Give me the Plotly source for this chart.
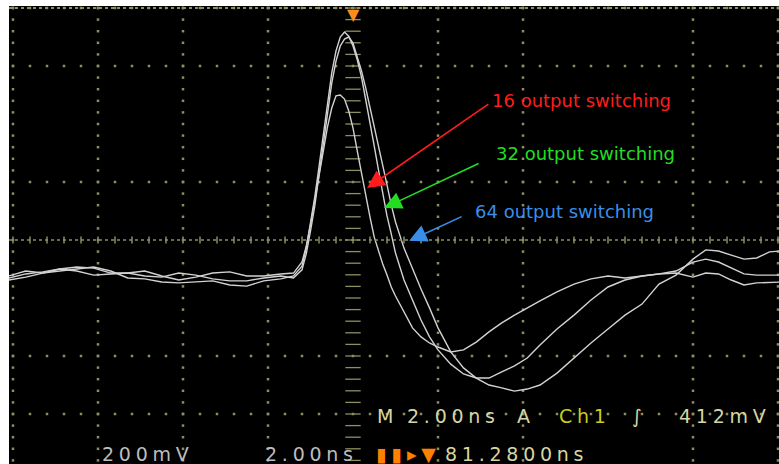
"""
Ground bounce vs number of switching outputs - scope capture redrawn
"""
import plotly.graph_objects as go

# scope settings: 2 ns/div, 200 mV/div
NS_DIV = 2.0
MV_DIV = 200.0

# time axis of the capture (ns, 0 = screen centre)
t_ns = [-8.1, -7.7, -7.3, -6.9, -6.5, -6.1, -5.7, -5.3, -4.9, -4.5, -4.1, -3.7,
        -3.3, -2.9, -2.5, -2.1, -1.7, -1.4,
        -1.2, -1.1, -1.0, -0.9, -0.8, -0.7, -0.6, -0.5, -0.4, -0.3, -0.2, -0.1,
        0.0, 0.1, 0.2, 0.3, 0.4, 0.5, 0.6, 0.7, 0.8, 0.9, 1.0,
        1.2, 1.4, 1.6, 1.8, 2.0,
        2.3, 2.6, 2.9, 3.2, 3.5, 3.8, 4.1, 4.4,
        4.8, 5.2, 5.6, 6.0, 6.4, 6.8, 7.2, 7.6, 8.0,
        8.3, 8.6, 8.9, 9.2, 9.5, 9.8, 10.05]

# mV
v_16 = [-131, -117, -110, -100, -93, -97, -114, -114, -107, -124, -138, -128,
        -114, -110, -124, -124, -117, -114,
        -76, -21, 52, 134, 221, 310, 390, 455, 497, 500, 486, 445,
        386, 307, 228, 152, 79, 10, -41, -83, -121, -162, -193,
        -248, -303, -334, -355, -369,
        -386, -379, -352, -317, -286, -259, -234, -210,
        -179, -152, -134, -124, -131, -124, -117, -114, -128,
        -114, -117, -138, -155, -148, -145, -145]

v_32 = [-124, -107, -114, -107, -100, -93, -107, -131, -134, -145, -148, -145,
        -141, -155, -159, -141, -134, -124,
        -90, -28, 55, 148, 252, 362, 479, 576, 652, 700, 717, 703,
        669, 621, 562, 486, 407, 324, 241, 162, 83, 21, -45,
        -138, -210, -276, -334, -379,
        -428, -462, -476, -476, -455, -434, -407, -362,
        -307, -259, -207, -162, -138, -124, -117, -107, -76,
        -66, -76, -97, -117, -121, -121, -121]

v_64 = [-138, -128, -114, -100, -107, -121, -117, -114, -124, -128, -114, -121,
        -134, -141, -141, -131, -124, -131,
        -103, -48, 31, 117, 224, 331, 441, 541, 617, 669, 693, 700,
        679, 634, 583, 524, 459, 393, 324, 255, 190, 121, 62,
        -28, -100, -169, -234, -303,
        -386, -441, -476, -500, -510, -521, -514, -500,
        -459, -407, -355, -307, -259, -221, -152, -121, -66,
        -34, -38, -52, -66, -62, -41, -38]

labels = ["16 output switching", "32 output switching", "64 output switching"]
label_colors = ["#ff1c1c", "#22dd22", "#3a8ee8"]

# graticule (in divisions)
grid_cols = [-4, -3, -2, -1, 1, 2, 4, 5]
grid_rows = [4, 3, 1, -2, -3]

GRID = "#8e8e62"
TRACE = "#d2d2d2"

# screen window in pixels -> data range
W, H = 779, 464
ML, MT = 9, 6
CX, CY = 353, 240           # screen centre (px)
PX_DIV_X, PX_DIV_Y = 85.0, 58.0
x0 = (ML - CX) / PX_DIV_X * NS_DIV
x1 = (W - CX) / PX_DIV_X * NS_DIV
y1 = (CY - MT) / PX_DIV_Y * MV_DIV
y0 = (CY - H) / PX_DIV_Y * MV_DIV

fig = go.Figure()

# graticule dots
gx, gy = [], []
for c in grid_cols:
    for k in range(-20, 21):
        gx.append(c * NS_DIV)
        gy.append(k * MV_DIV / 5)
for r in grid_rows:
    for k in range(-25, 26):
        gx.append(k * NS_DIV / 5)
        gy.append(r * MV_DIV)
fig.add_trace(go.Scatter(x=gx, y=gy, mode="markers", hoverinfo="skip",
                         marker=dict(symbol="square", size=2.5, color=GRID)))

# centre axes with minor ticks
fig.add_shape(type="line", x0=x0, x1=x1, y0=0, y1=0,
              line=dict(color=GRID, width=1.5, dash="dot"))
fig.add_shape(type="line", x0=x0, x1=x1, y0=4 * MV_DIV, y1=4 * MV_DIV,
              line=dict(color=GRID, width=2, dash="dot"))
fig.add_trace(go.Scatter(
    x=[0] * 41, y=[k * MV_DIV / 5 for k in range(-20, 21)], mode="markers",
    hoverinfo="skip",
    marker=dict(symbol="line-ew", size=11, line=dict(color=GRID, width=1.3))))
fig.add_trace(go.Scatter(
    x=[k * NS_DIV / 5 for k in range(-25, 26)], y=[0] * 51, mode="markers",
    hoverinfo="skip",
    marker=dict(symbol="line-ns", size=5, line=dict(color=GRID, width=1.5))))

# the three captures
for v in [v_16, v_32, v_64]:
    fig.add_trace(go.Scatter(x=t_ns, y=v, mode="lines", hoverinfo="skip",
                             line=dict(color=TRACE, width=1.4)))


def paper(px, py):
    return (px - ML) / (W - ML), (H - py) / (H - MT)


def spaced(s):
    return "\u2005".join(s)


ann = []
# callouts: text position (px) and arrow tail / tip (ns, mV)
text_px = [(490, 101), (494, 153), (473, 211)]
arrow_tail = [(3.22, 472), (2.99, 266), (2.59, 83)]
arrow_tip = [(0.33, 179), (0.73, 110), (1.32, -3)]
for lab, col, (px, py), (ax, ay), (tx, ty) in zip(labels, label_colors, text_px,
                                                   arrow_tail, arrow_tip):
    xp, yp = paper(px, py)
    ann.append(dict(text=lab, x=xp, y=yp, xref="paper", yref="paper",
                    xanchor="left", yanchor="middle", showarrow=False,
                    font=dict(family="DejaVu Sans", size=18, color=col)))
    ann.append(dict(text="", x=tx, y=ty, ax=ax, ay=ay, xref="x", yref="y",
                    axref="x", ayref="y", showarrow=True, arrowhead=2,
                    arrowsize=2.2, arrowwidth=1.6, arrowcolor=col))

KHAKI = "#d6d6a2"
status = [
    ("M", 375, 416, KHAKI), ("2.00ns", 405, 416, KHAKI), ("A", 515, 416, KHAKI),
    ("Ch1", 557, 416, "#cccc1a"), ("\u222b", 630, 416, KHAKI),
    ("412mV", 677, 416, KHAKI),
    ("200mV", 100, 454, "#bdbdbd"), ("2.00ns", 263, 454, "#bdbdbd"),
    ("\u25ae\u25ae", 374, 454, "#ff8000"), ("\u25b8\u25bc", 405, 454, "#ff8000"),
    ("81.2800ns", 443, 454, KHAKI),
]
for s, px, py, col in status:
    xp, yp = paper(px, py)
    ann.append(dict(text=spaced(s), x=xp, y=yp, xref="paper", yref="paper",
                    xanchor="left", yanchor="middle", showarrow=False,
                    font=dict(family="DejaVu Sans", size=19, color=col)))

# trigger position marker at the top
ann.append(dict(text="\u25bc", x=0, y=1, xref="x", yref="paper",
                xanchor="center", yanchor="top", showarrow=False, yshift=3,
                font=dict(family="DejaVu Sans", size=16, color="#ff8c1a")))

fig.update_layout(
    width=W, height=H,
    margin=dict(l=ML, r=0, t=MT, b=0),
    paper_bgcolor="white", plot_bgcolor="black",
    showlegend=False, annotations=ann,
    xaxis=dict(range=[x0, x1], visible=False, fixedrange=True),
    yaxis=dict(range=[y0, y1], visible=False, fixedrange=True),
)

# browser body margin would push the figure off the window
fig.write_html("out.html", config={"displayModeBar": False},
               post_script="document.body.style.margin='0';")
